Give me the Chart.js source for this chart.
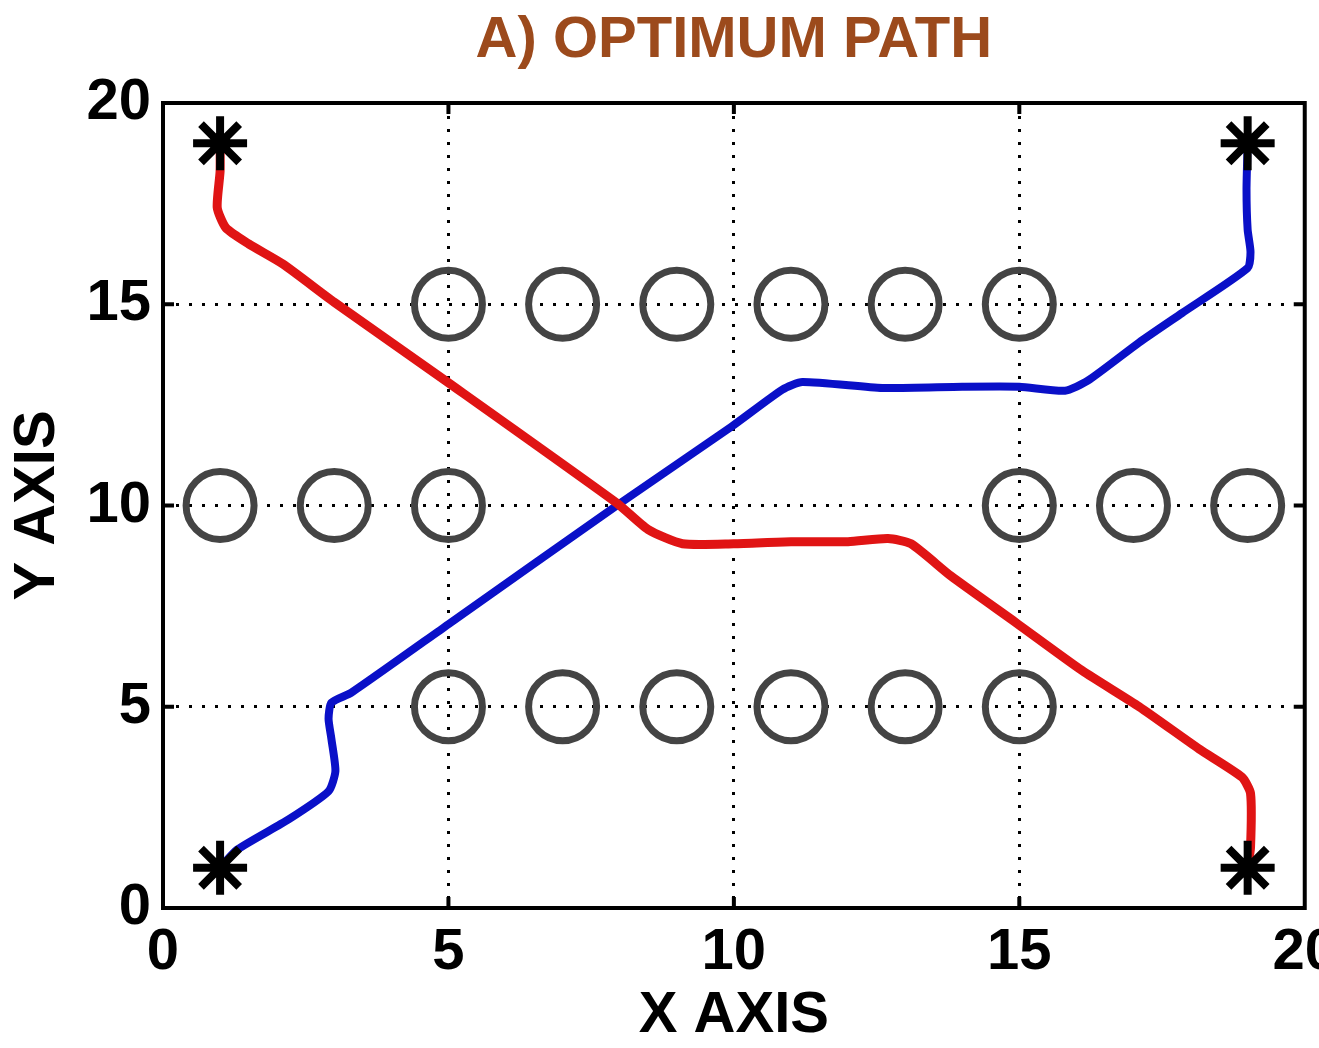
<!DOCTYPE html>
<html>
<head>
<meta charset="utf-8">
<script src="https://cdn.jsdelivr.net/npm/chart.js@4"></script>
<style>
  html, body { margin: 0; padding: 0; background: #fff; overflow: hidden; }
  #wrap { position: relative; width: 1347px; height: 1048px; }
</style>
</head>
<body>
<div id="wrap"><canvas id="pathChart"></canvas></div>
<script>
/* optimum path plot: two robot paths between obstacle rows */

const redX = [1, 1, 0.95, 1.1, 1.5, 2.1, 3.0, 5.0, 7.95, 8.5, 9.1, 10, 11, 12, 12.7, 13.1, 13.8, 14.95, 16.1, 17.1, 18.15, 18.9, 19.05, 19.05, 19];
const redY = [19, 18.3, 17.4, 16.9, 16.5, 16.0, 15.05, 13.05, 10.06, 9.4, 9.05, 9.05, 9.1, 9.1, 9.18, 9.05, 8.25, 7.08, 5.9, 5.0, 3.95, 3.25, 2.85, 1.5, 1];

const blueX = [1, 1.3, 2.2, 2.9, 3.02, 2.95, 2.9, 2.95, 3.3, 5.0, 7.95, 9.95, 10.85, 11.2, 12.6, 14, 15, 15.8, 16.2, 17.1, 17.85, 19.0, 19.05, 19.0, 18.98, 19];
const blueY = [1, 1.45, 2.2, 2.9, 3.4, 4.2, 4.7, 5.1, 5.35, 7.05, 10.0, 11.95, 12.88, 13.07, 12.92, 12.95, 12.95, 12.85, 13.1, 14.05, 14.78, 15.9, 16.3, 16.85, 17.85, 19];

const obstacleX = [5, 7, 9, 11, 13, 15, 1, 3, 5, 15, 17, 19, 5, 7, 9, 11, 13, 15];
const obstacleY = [15, 15, 15, 15, 15, 15, 10, 10, 10, 10, 10, 10, 5, 5, 5, 5, 5, 5];

const endX = [1, 19, 1, 19];
const endY = [19, 19, 1, 1];

const axisMin = 0, axisMax = 20, tickStep = 5;

const FONT = '"Liberation Sans", Arial, sans-serif';
const toPts = (xs, ys) => xs.map((x, i) => ({ x, y: ys[i] }));

const framePlugin = {
  id: 'frame',
  afterDraw(chart) {
    const { ctx, chartArea: a, scales: { x, y } } = chart;
    ctx.save();
    ctx.strokeStyle = '#000';
    ctx.lineWidth = 4;
    ctx.strokeRect(a.left, a.top, a.right - a.left, a.bottom - a.top);
    ctx.beginPath();
    x.ticks.forEach(t => {
      if (t.value <= axisMin || t.value >= axisMax) return;
      const px = x.getPixelForValue(t.value);
      ctx.moveTo(px, a.bottom); ctx.lineTo(px, a.bottom - 11);
      ctx.moveTo(px, a.top); ctx.lineTo(px, a.top + 11);
    });
    y.ticks.forEach(t => {
      if (t.value <= axisMin || t.value >= axisMax) return;
      const py = y.getPixelForValue(t.value);
      ctx.moveTo(a.left, py); ctx.lineTo(a.left + 11, py);
      ctx.moveTo(a.right, py); ctx.lineTo(a.right - 11, py);
    });
    ctx.stroke();
    ctx.restore();
  }
};

const gridColor = c => (c.tick && (c.tick.value > axisMin && c.tick.value < axisMax)) ? '#000' : 'rgba(0,0,0,0)';
const bold58 = { family: FONT, size: 58, weight: 'bold' };

new Chart(document.getElementById('pathChart'), {
  type: 'scatter',
  data: {
    datasets: [
      {
        label: 'ends',
        data: toPts(endX, endY),
        pointStyle: 'star',
        pointRadius: 27,
        pointBorderWidth: 8,
        pointBorderColor: '#000',
        pointBackgroundColor: '#000',
        order: 0
      },
      {
        label: 'red path',
        data: toPts(redX, redY),
        showLine: true,
        borderColor: '#e01414',
        borderWidth: 9,
        pointRadius: 0,
        tension: 0.2,
        borderCapStyle: 'round',
        borderJoinStyle: 'round',
        order: 1
      },
      {
        label: 'blue path',
        data: toPts(blueX, blueY),
        showLine: true,
        borderColor: '#0a10c8',
        borderWidth: 8,
        pointRadius: 0,
        tension: 0.2,
        borderCapStyle: 'round',
        borderJoinStyle: 'round',
        order: 1
      },
      {
        label: 'obstacles',
        data: toPts(obstacleX, obstacleY),
        pointStyle: 'circle',
        pointRadius: 34,
        pointBorderWidth: 7,
        pointBorderColor: '#444',
        pointBackgroundColor: 'rgba(0,0,0,0)',
        order: 2
      }
    ]
  },
  options: {
    responsive: true,
    maintainAspectRatio: false,
    animation: false,
    layout: { padding: 0 },
    plugins: {
      legend: { display: false },
      tooltip: { enabled: false }
    },
    scales: {
      x: {
        type: 'linear',
        min: axisMin, max: axisMax,
        afterFit(s) { s.height = 140; },
        border: { display: false, dash: [3, 10] },
        grid: { color: gridColor, lineWidth: 3, drawTicks: false },
        ticks: { stepSize: tickStep, color: '#000', padding: 10, maxRotation: 0, font: bold58 },
        title: { display: true, text: 'X AXIS', color: '#000', padding: { top: 0, bottom: -3 }, font: bold58 }
      },
      top: {
        type: 'linear',
        position: 'top',
        min: axisMin, max: axisMax,
        afterFit(s) { s.height = 103; },
        border: { display: false },
        grid: { display: false, drawTicks: false },
        ticks: { display: false },
        title: { display: true, text: 'A) OPTIMUM PATH', color: '#9c4a1c', padding: { top: 6, bottom: 0 }, font: bold58 }
      },
      y: {
        type: 'linear',
        min: axisMin, max: axisMax,
        afterFit(s) { s.width = 163; },
        border: { display: false, dash: [3, 10] },
        grid: { color: gridColor, lineWidth: 3, drawTicks: false },
        ticks: { stepSize: tickStep, color: '#000', padding: 12, font: bold58 },
        title: { display: true, text: 'Y AXIS', color: '#000', padding: { top: 3, bottom: 0 }, font: bold58 }
      }
    }
  },
  plugins: [framePlugin]
});
</script>
</body>
</html>
